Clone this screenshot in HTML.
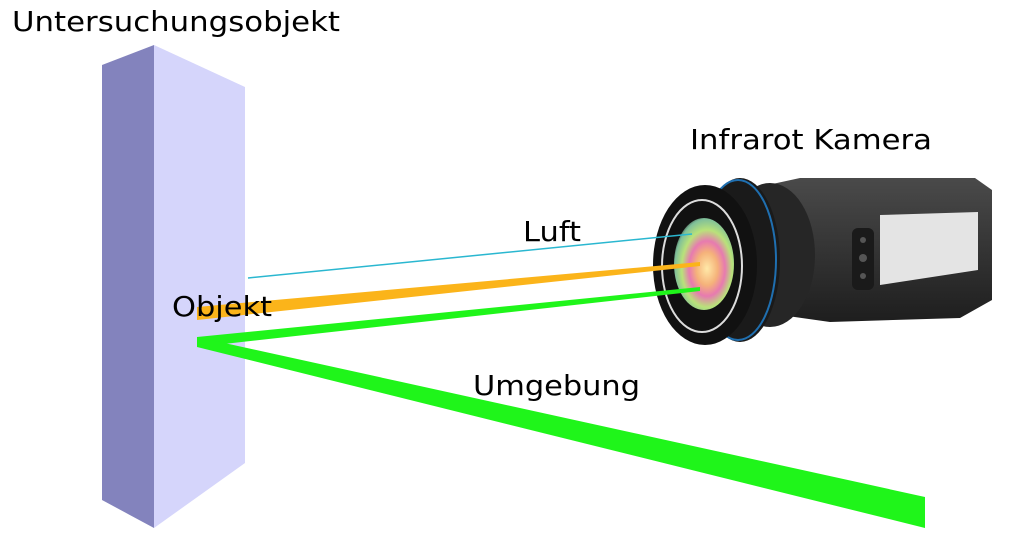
<!DOCTYPE html>
<html><head><meta charset="utf-8"><style>html,body{margin:0;padding:0;background:#fff}svg{display:block}</style></head>
<body>
<svg width="1024" height="546" viewBox="0 0 1024 546" xmlns="http://www.w3.org/2000/svg" font-family="DejaVu Sans, sans-serif">
<defs>
<radialGradient id="lens" cx="0.55" cy="0.55" r="0.6">
<stop offset="0" stop-color="#ffe9a8"/><stop offset="0.3" stop-color="#f5b27a"/><stop offset="0.5" stop-color="#e77ab0"/><stop offset="0.7" stop-color="#b9e27a"/><stop offset="0.9" stop-color="#7fbf9a"/><stop offset="1" stop-color="#3a4a40"/>
</radialGradient>
<linearGradient id="body" x1="0" y1="0" x2="0" y2="1"><stop offset="0" stop-color="#4a4a4a"/><stop offset="1" stop-color="#1e1e1e"/></linearGradient>
</defs>
<!-- box -->
<polygon points="102,65 154,45 154,528 102,500" fill="#8383bd"/>
<polygon points="154,45 245,87 245,463 154,528" fill="#d5d5fb"/>
<!-- camera -->
<polygon points="745,190 800,178 975,178 992,190 992,300 960,318 830,322 745,310" fill="url(#body)"/>
<polygon points="880,215 978,212 978,270 880,285" fill="#e4e4e4"/>
<rect x="852" y="228" width="22" height="62" rx="6" fill="#1a1a1a"/>
<circle cx="863" cy="240" r="3" fill="#555"/><circle cx="863" cy="258" r="4" fill="#555"/><circle cx="863" cy="276" r="3" fill="#555"/>
<ellipse cx="770" cy="255" rx="45" ry="72" fill="#262626"/>
<ellipse cx="740" cy="260" rx="40" ry="82" fill="#1a1a1a"/>
<ellipse cx="738" cy="260" rx="38" ry="80" fill="none" stroke="#1f6fb0" stroke-width="2"/>
<ellipse cx="705" cy="265" rx="52" ry="80" fill="#111"/>
<ellipse cx="702" cy="266" rx="40" ry="66" fill="none" stroke="#ddd" stroke-width="2"/>
<ellipse cx="704" cy="264" rx="30" ry="46" fill="url(#lens)"/>
<!-- rays -->
<line x1="248" y1="278" x2="692" y2="234" stroke="#2ab7d0" stroke-width="1.5"/>
<polygon points="197,307 197,320 700,266 700,262" fill="#fbb41a"/>
<polygon points="197,337 197,347 700,291 700,287" fill="#1ff51a"/>
<polygon points="197,337 197,347 925,528 925,497" fill="#1ff51a"/>
<!-- labels -->
<g fill="#000" font-size="28">
<text x="12" y="31" textLength="328" lengthAdjust="spacingAndGlyphs">Untersuchungsobjekt</text>
<text x="690" y="149" textLength="242" lengthAdjust="spacingAndGlyphs">Infrarot Kamera</text>
<text x="523" y="241" textLength="58" lengthAdjust="spacingAndGlyphs">Luft</text>
<text x="172" y="316" textLength="100" lengthAdjust="spacingAndGlyphs">Objekt</text>
<text x="473" y="395" textLength="167" lengthAdjust="spacingAndGlyphs">Umgebung</text>
</g>
</svg>
</body></html>
